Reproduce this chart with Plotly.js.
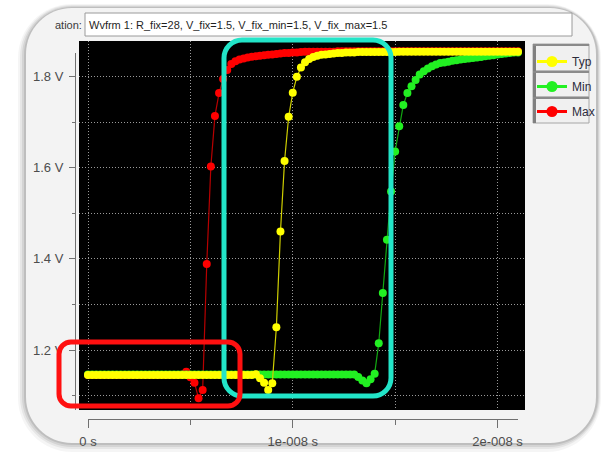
<!DOCTYPE html>
<html><head><meta charset="utf-8">
<script src="https://cdn.plot.ly/plotly-3.0.1.min.js"></script>
<style>html,body{margin:0;padding:0;background:#fff;}#chart{width:601px;height:452px;}</style>
</head><body><div id="chart"></div>
<script>
// ---- data (time in ns, voltage in V) ----
const TIME_NS = [0,0.2,0.4,0.6,0.8,1,1.2,1.4,1.6,1.8,2,2.2,2.4,2.6,2.8,3,3.2,3.4,3.6,3.8,4,4.2,4.4,4.6,4.8,5,5.2,5.4,5.6,5.8,6,6.2,6.4,6.6,6.8,7,7.2,7.4,7.6,7.8,8,8.2,8.4,8.6,8.8,9,9.2,9.4,9.6,9.8,10,10.2,10.4,10.6,10.8,11,11.2,11.4,11.6,11.8,12,12.2,12.4,12.6,12.8,13,13.2,13.4,13.6,13.8,14,14.2,14.4,14.6,14.8,15,15.2,15.4,15.6,15.8,16,16.2,16.4,16.6,16.8,17,17.2,17.4,17.6,17.8,18,18.2,18.4,18.6,18.8,19,19.2,19.4,19.6,19.8,20,20.2,20.4,20.6,20.8,21];

const TYP_V = [
1.145,1.145,1.145,1.145,1.145,1.145,1.145,1.145,1.145,1.145,
1.145,1.145,1.145,1.145,1.145,1.145,1.145,1.145,1.145,1.145,
1.145,1.145,1.145,1.145,1.145,1.145,1.145,1.145,1.145,1.145,
1.145,1.145,1.145,1.145,1.145,1.145,1.145,1.145,1.145,1.145,
1.145,1.147,1.138,1.128,1.112,1.127,1.250,1.460,1.615,1.712,
1.765,1.800,1.820,1.832,1.839,1.843,1.846,1.848,1.849,1.850,
1.851,1.852,1.852,1.853,1.853,1.853,1.854,1.854,1.854,1.854,
1.854,1.854,1.854,1.854,1.854,1.854,1.855,1.855,1.855,1.855,
1.855,1.855,1.855,1.855,1.855,1.855,1.855,1.855,1.855,1.855,
1.855,1.855,1.855,1.855,1.855,1.855,1.855,1.855,1.855,1.855,
1.855,1.855,1.855,1.855,1.855,1.855];

const MIN_V = [
1.146,1.146,1.146,1.146,1.146,1.146,1.146,1.146,1.146,1.146,
1.146,1.146,1.146,1.146,1.146,1.146,1.146,1.146,1.146,1.146,
1.146,1.146,1.146,1.146,1.146,1.146,1.146,1.146,1.146,1.146,
1.146,1.146,1.146,1.146,1.146,1.146,1.146,1.146,1.146,1.146,
1.146,1.146,1.146,1.146,1.146,1.146,1.146,1.146,1.146,1.146,
1.146,1.146,1.146,1.146,1.146,1.146,1.146,1.146,1.146,1.146,
1.146,1.146,1.146,1.146,1.146,1.146,1.141,1.133,1.127,1.136,
1.148,1.215,1.325,1.442,1.548,1.636,1.691,1.738,1.764,1.779,
1.793,1.805,1.812,1.818,1.823,1.827,1.830,1.831,1.833,1.835,
1.836,1.838,1.839,1.840,1.841,1.842,1.843,1.845,1.846,1.847,
1.849,1.850,1.851,1.852,1.853,1.853];

const MAX_V = [
1.145,1.145,1.145,1.145,1.145,1.145,1.145,1.145,1.145,1.145,
1.145,1.145,1.145,1.145,1.145,1.145,1.145,1.145,1.145,1.145,
1.145,1.145,1.145,1.146,1.152,1.140,1.128,1.094,1.112,1.389,
1.603,1.714,1.764,1.795,1.815,1.828,1.834,1.838,1.840,1.842,
1.844,1.845,1.846,1.847,1.848,1.849,1.850,1.851,1.852,1.852,
1.853,1.853,1.854,1.855,1.855,1.855,1.855,1.855,1.855,1.855,
1.855,1.856,1.856,1.856,1.856,1.856,1.856,1.856,1.856,1.856,
1.856,1.856,1.856,1.856,1.856,1.856,1.856,1.856,1.856,1.856,
1.856,1.856,1.856,1.856,1.856,1.856,1.856,1.856,1.856,1.856,
1.856,1.856,1.856,1.856,1.856,1.856,1.856,1.856,1.856,1.856,
1.856,1.856,1.856,1.856,1.856,1.856];

const SERIES_NAMES = ['Typ','Min','Max'];
const X_TICK_VALS = [0,10,20];
const X_TICK_TEXT = ['0 s','1e-008 s','2e-008 s'];
const X_MINOR_VALS = [5,15];
const Y_TICK_VALS = [1.2,1.4,1.6,1.8];
const Y_TICK_TEXT = ['1.2 V','1.4 V','1.6 V','1.8 V'];
const Y_MINOR_VALS = [1.1,1.3,1.5,1.7];
const ANNOT_LABEL = 'ation:';
const ANNOT_TEXT = 'Wvfrm 1: R_fix=28, V_fix=1.5, V_fix_min=1.5, V_fix_max=1.5';

// ---- styling / layout helpers ----
const PL = 76, PW = 449, PT = 41, PH = 378;   // paper plotting box in px
const fx = px => (px - PL) / PW;
const fy = py => (PT + PH - py) / PH;
function P(x, y){ return fx(x).toFixed(5) + ',' + fy(y).toFixed(5); }
function rr(x0, y0, x1, y1, r){
  const k = 0.4477 * r;
  return 'M' + P(x0 + r, y0) + ' L' + P(x1 - r, y0) +
    ' C' + P(x1 - k, y0) + ' ' + P(x1, y0 + k) + ' ' + P(x1, y0 + r) +
    ' L' + P(x1, y1 - r) +
    ' C' + P(x1, y1 - k) + ' ' + P(x1 - k, y1) + ' ' + P(x1 - r, y1) +
    ' L' + P(x0 + r, y1) +
    ' C' + P(x0 + k, y1) + ' ' + P(x0, y1 - k) + ' ' + P(x0, y1 - r) +
    ' L' + P(x0, y0 + r) +
    ' C' + P(x0, y0 + k) + ' ' + P(x0 + k, y0) + ' ' + P(x0 + r, y0) + ' Z';
}
function rectPx(x0, y0, x1, y1, fill, line, lw, layer){
  return {type:'rect', xref:'paper', yref:'paper', x0:fx(x0), x1:fx(x1), y0:fy(y1), y1:fy(y0),
    fillcolor:fill, line:{color:line || 'rgba(0,0,0,0)', width:lw || 0}, layer:layer || 'below'};
}
function linePx(x0, y0, x1, y1, color, w, layer){
  return {type:'line', xref:'paper', yref:'paper', x0:fx(x0), x1:fx(x1), y0:fy(y0), y1:fy(y1),
    line:{color:color, width:w}, layer:layer || 'below'};
}
function pathPx(d, fill, line, lw, layer){
  return {type:'path', xref:'paper', yref:'paper', path:d, fillcolor:fill,
    line:{color:line || 'rgba(0,0,0,0)', width:lw || 0}, layer:layer || 'below'};
}

const COLORS = {
  Typ:{marker:'#ffff00', line:'#cfcf00'},
  Min:{marker:'#22f022', line:'#12a812'},
  Max:{marker:'#ff0000', line:'#b80000'}
};
const SERIES_DATA = {Typ:TYP_V, Min:MIN_V, Max:MAX_V};

const traces = [];
// draw order: Max, Min, Typ (Typ on top)
['Max','Min','Typ'].forEach(n => {
  traces.push({x:TIME_NS, y:SERIES_DATA[n], type:'scatter', mode:'lines+markers', name:n,
    line:{color:COLORS[n].line, width:1.2}, marker:{color:COLORS[n].marker, size:8},
    showlegend:false, hoverinfo:'skip'});
});
// legend entries
SERIES_NAMES.forEach(n => {
  traces.push({x:[null], y:[null], type:'scatter', mode:'lines+markers', name:n, legendgroup:n,
    line:{color:COLORS[n].marker, width:3}, marker:{color:COLORS[n].marker, size:11}, hoverinfo:'skip'});
});

const gridStyle = {showgrid:true, gridcolor:'#9a9a9a', gridwidth:1, griddash:'1px,2px'};

const shapes = [
  // window shadow + window
  pathPx(rr(18, 4, 601, 452, 54), 'rgba(0,0,0,0.04)'),
  pathPx(rr(20, 5, 600, 449, 52), 'rgba(0,0,0,0.06)'),
  pathPx(rr(22, 6, 599, 447, 50), 'rgba(0,0,0,0.08)'),
  pathPx(rr(24, 7, 598, 445, 48), 'rgba(0,0,0,0.10)'),
  pathPx(rr(26, 8, 596, 443, 46), '#f3f3f3'),
  // annotation text box
  rectPx(85, 13, 572, 36, '#ffffff', '#9a9a9a', 1),
  // plot background
  rectPx(79, 41, 525, 410, '#000000'),
  // legend boxes
  rectPx(533, 44, 589, 71, '#f0f0f0', '#a6a6a6', 1),
  rectPx(533, 71, 589, 97, '#f0f0f0', '#a6a6a6', 1),
  rectPx(533, 97, 589, 123, '#f0f0f0', '#a6a6a6', 1),
  linePx(534.5, 44, 534.5, 123, '#808080', 3),
  linePx(533, 45, 589, 45, '#8a8a8a', 2),
  linePx(533, 72, 589, 72, '#8a8a8a', 2),
  linePx(533, 98, 589, 98, '#8a8a8a', 2),
  // axis lines
  linePx(88, 419.5, 518, 419.5, '#707070', 1),
  linePx(75.5, 53, 75.5, 410, '#707070', 1),
  // highlight boxes
  pathPx(rr(224, 40, 391, 396, 18), 'rgba(0,0,0,0)', '#22e5c8', 5, 'above'),
  pathPx(rr(59, 342, 240, 406, 12), 'rgba(0,0,0,0)', '#ff1010', 5, 'above')
];

const layout = {
  width:601, height:452,
  margin:{l:PL, r:601 - PL - PW, t:PT, b:452 - PT - PH, pad:0, autoexpand:false},
  paper_bgcolor:'#ffffff', plot_bgcolor:'rgba(0,0,0,0)',
  font:{family:'"Liberation Sans", Arial, sans-serif', size:13, color:'#4d4d4d'},
  showlegend:true,
  legend:{x:fx(532), y:fy(47), xanchor:'left', yanchor:'top', bgcolor:'rgba(0,0,0,0)', borderwidth:0,
    font:{size:12, color:'#2b2b3b'}, itemwidth:30, tracegroupgap:6, traceorder:'grouped'},
  xaxis:Object.assign({domain:[fx(79), 1], range:[-0.4396, 21.343], anchor:'free', position:0,
    showline:false, zeroline:false, tickmode:'array', tickvals:X_TICK_VALS, ticktext:X_TICK_TEXT,
    ticks:'outside', ticklen:8, tickwidth:1, tickcolor:'#707070', ticklabelstandoff:2,
    tickfont:{size:13, color:'#4d4d4d'},
    minor:Object.assign({tickmode:'array', tickvals:X_MINOR_VALS, ticks:'outside', ticklen:5, tickcolor:'#707070'}, gridStyle),
    fixedrange:true}, gridStyle),
  yaxis:Object.assign({domain:[fy(410), 1], range:[1.0683, 1.8784], anchor:'free', position:0,
    showline:false, zeroline:false, tickmode:'array', tickvals:Y_TICK_VALS, ticktext:Y_TICK_TEXT,
    ticks:'outside', ticklen:7, tickwidth:1, tickcolor:'#707070', ticklabelstandoff:3,
    tickfont:{size:13, color:'#4d4d4d'},
    minor:Object.assign({tickmode:'array', tickvals:Y_MINOR_VALS, ticks:'outside', ticklen:4, tickcolor:'#707070'}, gridStyle),
    fixedrange:true}, gridStyle),
  shapes:shapes,
  annotations:[
    {xref:'paper', yref:'paper', x:fx(84), y:fy(25), xanchor:'right', yanchor:'middle', showarrow:false,
      text:ANNOT_LABEL, font:{size:11, color:'#3a3a3a'}},
    {xref:'paper', yref:'paper', x:fx(87), y:fy(25), xanchor:'left', yanchor:'middle', showarrow:false,
      text:ANNOT_TEXT, font:{size:11, color:'#1f1f1f'}}
  ]
};

Plotly.newPlot('chart', traces, layout, {displayModeBar:false, staticPlot:true});
</script>
</body></html>
